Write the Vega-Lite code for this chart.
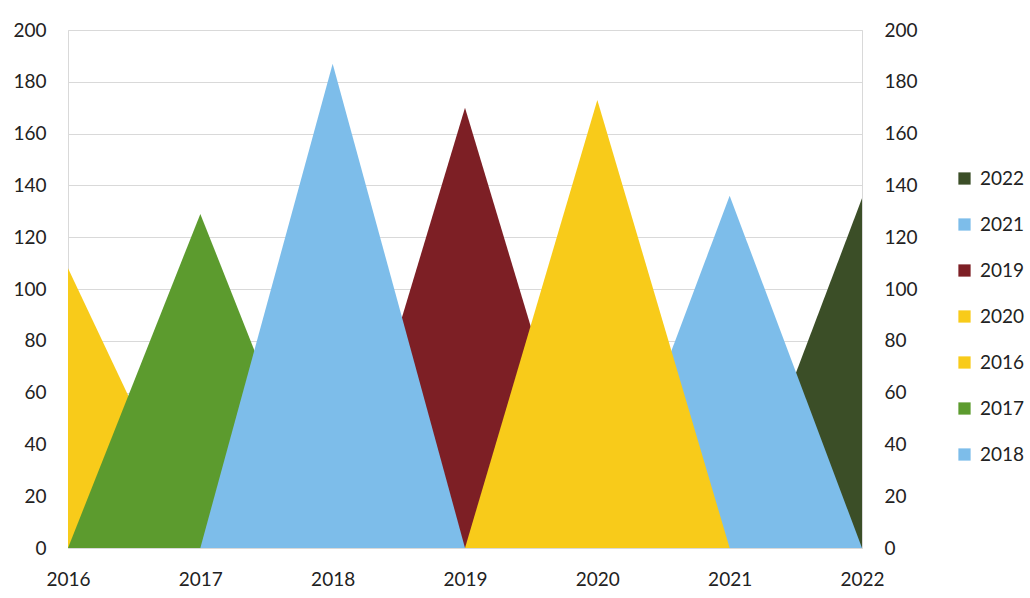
{
  "$schema": "https://vega.github.io/schema/vega-lite/v6.json",
  "width": 794,
  "height": 518,
  "autosize": {"type": "none"},
  "padding": {"left": 68, "top": 30, "right": 168, "bottom": 50},
  "background": "#ffffff",
  "config": {
    "font": "Lato",
    "view": {"stroke": "#d9d9d9", "strokeWidth": 1},
    "axis": {"labelFont": "Lato", "labelFontSize": 19, "labelColor": "#222222", "domain": false, "ticks": false}
  },
  "data": {
    "values": [
      {"series": "2016", "year": "2016", "value": 108},
      {"series": "2016", "year": "2017", "value": 0},
      {"series": "2017", "year": "2016", "value": 0},
      {"series": "2017", "year": "2017", "value": 129},
      {"series": "2017", "year": "2018", "value": 0},
      {"series": "2018", "year": "2017", "value": 0},
      {"series": "2018", "year": "2018", "value": 187},
      {"series": "2018", "year": "2019", "value": 0},
      {"series": "2019", "year": "2018", "value": 0},
      {"series": "2019", "year": "2019", "value": 170},
      {"series": "2019", "year": "2020", "value": 0},
      {"series": "2020", "year": "2019", "value": 0},
      {"series": "2020", "year": "2020", "value": 173},
      {"series": "2020", "year": "2021", "value": 0},
      {"series": "2021", "year": "2020", "value": 0},
      {"series": "2021", "year": "2021", "value": 136},
      {"series": "2021", "year": "2022", "value": 0},
      {"series": "2022", "year": "2021", "value": 0},
      {"series": "2022", "year": "2022", "value": 135}
    ]
  },
  "encoding": {
    "x": {
      "field": "year", "type": "ordinal", "title": null,
      "scale": {"type": "point", "padding": 0, "domain": ["2016","2017","2018","2019","2020","2021","2022"]},
      "axis": {"labelAngle": 0, "labelPadding": 22, "grid": false}
    },
    "color": {
      "field": "series", "type": "nominal",
      "scale": {
        "domain": ["2022","2021","2019","2020","2016","2017","2018"],
        "range": ["#3b4e27","#7dbdea","#7d1f25","#f8cb1a","#f8cb1a","#5c9b2e","#7dbdea"]
      },
      "legend": {
        "orient": "none", "legendX": 887, "legendY": 139, "title": null,
        "symbolType": "square", "symbolSize": 150, "symbolStrokeWidth": 0,
        "labelFontSize": 19, "labelFont": "Lato", "labelColor": "#222222",
        "rowPadding": 26, "labelOffset": 6
      }
    }
  },
  "layer": [
    {
      "transform": [{"filter": "datum.series === '2022'"}],
      "mark": {"type": "area", "opacity": 1},
      "encoding": {
        "y": {"field": "value", "type": "quantitative", "title": null,
          "scale": {"domain": [0, 200]},
          "axis": {"orient": "left", "values": [0,20,40,60,80,100,120,140,160,180,200], "grid": true, "gridColor": "#d9d9d9", "labelPadding": 22}}
      }
    },
    {
      "transform": [{"filter": "datum.series === '2021'"}],
      "mark": {"type": "area", "opacity": 1},
      "encoding": {
        "y": {"field": "value", "type": "quantitative", "title": null,
          "scale": {"domain": [0, 200]},
          "axis": {"orient": "right", "values": [0,20,40,60,80,100,120,140,160,180,200], "grid": false, "labelPadding": 22}}
      }
    },
    {
      "transform": [{"filter": "datum.series === '2019'"}],
      "mark": {"type": "area", "opacity": 1},
      "encoding": {"y": {"field": "value", "type": "quantitative", "scale": {"domain": [0, 200]}, "axis": null}}
    },
    {
      "transform": [{"filter": "datum.series === '2020'"}],
      "mark": {"type": "area", "opacity": 1},
      "encoding": {"y": {"field": "value", "type": "quantitative", "scale": {"domain": [0, 200]}, "axis": null}}
    },
    {
      "transform": [{"filter": "datum.series === '2016'"}],
      "mark": {"type": "area", "opacity": 1},
      "encoding": {"y": {"field": "value", "type": "quantitative", "scale": {"domain": [0, 200]}, "axis": null}}
    },
    {
      "transform": [{"filter": "datum.series === '2017'"}],
      "mark": {"type": "area", "opacity": 1},
      "encoding": {"y": {"field": "value", "type": "quantitative", "scale": {"domain": [0, 200]}, "axis": null}}
    },
    {
      "transform": [{"filter": "datum.series === '2018'"}],
      "mark": {"type": "area", "opacity": 1},
      "encoding": {"y": {"field": "value", "type": "quantitative", "scale": {"domain": [0, 200]}, "axis": null}}
    }
  ],
  "resolve": {"axis": {"y": "independent"}}
}
